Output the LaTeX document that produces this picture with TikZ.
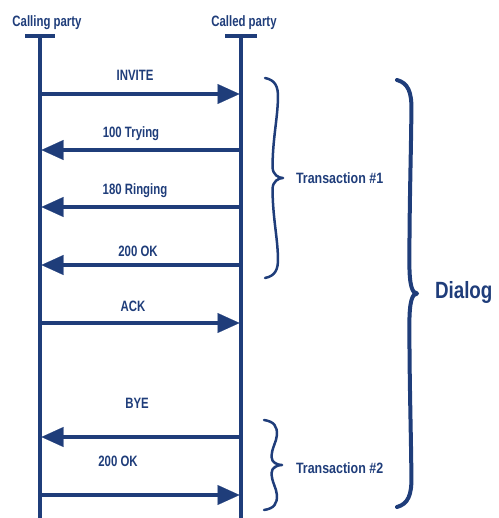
\documentclass[tikz,border=0pt]{standalone}
\usepackage{fontspec}
\setmainfont{Liberation Sans}
\newfontfamily\msgfont[FakeStretch=0.76]{Liberation Sans}
\newfontfamily\trfont[FakeStretch=0.83]{Liberation Sans}
\newfontfamily\dlgfont[FakeStretch=0.8]{Liberation Sans}
\usetikzlibrary{arrows.meta}
\definecolor{sipblue}{RGB}{31,61,122}

% A hand-drawn style curly brace opening to the left and pointing right.
% #1 height, #2 depth of the tip, #3 body offset (fraction of #2),
% #4 length of the end curls, #5 length of the curl into the tip
\tikzset{
  pics/curlybrace/.style n args={5}{code={
    \draw[draw=sipblue, line cap=round, line join=round]
      (0,0)
      .. controls ({0.55*#2},{-0.1*#4}) and ({0.74*#2},{-0.4*#4}) .. ({0.72*#2},{-#4})
      .. controls ({0.70*#2},{-#4-0.3*(0.5*#1-#4-#5)}) and ({#3*#2},{-0.5*#1+#5+0.4*(0.5*#1-#4-#5)}) .. ({#3*#2},{-0.5*#1+#5})
      .. controls ({#3*#2},{-0.5*#1+0.3*#5}) and ({0.75*#2},{-0.5*#1}) .. ({#2},{-0.5*#1})
      .. controls ({0.75*#2},{-0.5*#1}) and ({#3*#2},{-0.5*#1-0.3*#5}) .. ({#3*#2},{-0.5*#1-#5})
      .. controls ({#3*#2},{-0.5*#1-#5-0.4*(0.5*#1-#4-#5)}) and ({0.70*#2},{-#1+#4+0.3*(0.5*#1-#4-#5)}) .. ({0.72*#2},{-#1+#4})
      .. controls ({0.74*#2},{-#1+0.4*#4}) and ({0.55*#2},{-#1+0.1*#4}) .. (0,-#1);
  }}
}

\begin{document}
\begin{tikzpicture}[x=1pt,y=1pt,
  every node/.style={text=sipblue, inner sep=0pt, outer sep=0pt},
  lifeline/.style={draw=sipblue, line width=3.5pt},
  msg/.style={draw=sipblue, line width=3.5pt,
    -{Triangle[length=22pt,width=20pt,line width=0.1pt]}},
  party/.style={font=\msgfont\bfseries\fontsize{15}{18}\selectfont, anchor=base},
  msglabel/.style={font=\msgfont\bfseries\fontsize{15}{18}\selectfont, anchor=base},
  trlabel/.style={font=\trfont\bfseries\fontsize{15}{18}\selectfont, anchor=base west},
  dlglabel/.style={font=\dlgfont\bfseries\fontsize{23.5}{28}\selectfont, anchor=base west},
]
\useasboundingbox (0,0) rectangle (498,-518);

% participants
\node[party] (caller) at (47,-27) {Calling party};
\node[party] (callee) at (244,-27) {Called party};

% lifelines with their head bars
\coordinate (Ltop) at (40,-36);  \coordinate (Lbot) at (40,-520);
\coordinate (Rtop) at (241,-36); \coordinate (Rbot) at (241,-520);
\coordinate (LbarA) at (25,-36);  \coordinate (LbarB) at (55,-36);
\coordinate (RbarA) at (225,-36); \coordinate (RbarB) at (257,-36);
\draw[lifeline] (LbarA) -- (LbarB);
\draw[lifeline] (RbarA) -- (RbarB);
\draw[lifeline] (Ltop) -- (Lbot);
\draw[lifeline] (Rtop) -- (Rbot);

% message end points on the lifeline edges
\foreach \n/\y in {1/94,2/150,3/207,4/265,5/323,6/437,7/495}{
  \coordinate (L\n) at (41.5,-\y);
  \coordinate (R\n) at (239.5,-\y);
}

% messages
\draw[msg] (L1) -- (R1);
\draw[msg] (R2) -- (L2);
\draw[msg] (R3) -- (L3);
\draw[msg] (R4) -- (L4);
\draw[msg] (L5) -- (R5);
\draw[msg] (R6) -- (L6);
\draw[msg] (L7) -- (R7);

\node[msglabel] (invite)  at (135,-81)  {INVITE};
\node[msglabel] (trying)  at (131,-138) {100 Trying};
\node[msglabel] (ringing) at (135,-195) {180 Ringing};
\node[msglabel] (ok1)     at (138,-256) {200 OK};
\node[msglabel] (ack)     at (133,-311) {ACK};
\node[msglabel] (bye)     at (137,-408) {BYE};
\node[msglabel] (ok2)     at (118,-466) {200 OK};

% transactions and dialog
\coordinate (T1a) at (265,-78);
\coordinate (T2a) at (264,-420);
\coordinate (Da)  at (397,-80);
\pic[line width=2.5pt] at (T1a) {curlybrace={200}{18}{0.42}{20}{11}};
\pic[line width=2.5pt] at (T2a) {curlybrace={90}{18}{0.42}{15}{8}};
\pic[line width=4pt]   at (Da)  {curlybrace={427}{20}{0.62}{30}{30}};

\node[trlabel] (tr1) at (296,-184) {Transaction \#1};
\node[trlabel] (tr2) at (296,-473) {Transaction \#2};
\node[dlglabel] (dialog) at (435,-298) {Dialog};
\end{tikzpicture}
\end{document}
